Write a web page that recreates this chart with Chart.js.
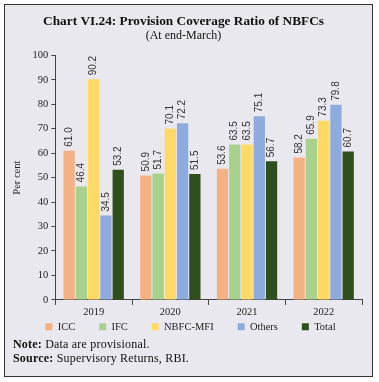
<!DOCTYPE html>
<html><head><meta charset="utf-8">
<script src="https://cdn.jsdelivr.net/npm/chart.js@4"></script>
<style>
html,body{margin:0;padding:0;background:#fff;}
#box{position:absolute;left:4px;top:4px;width:367px;height:371px;border:1.5px solid #333;background:#e9e8ee;overflow:hidden;}
#wrap{position:absolute;left:0;top:0;width:367px;height:359px;}
.note{position:absolute;left:8px;font-family:"Liberation Serif","DejaVu Serif",serif;font-size:12px;letter-spacing:0.2px;color:#111;}
</style></head>
<body>
<div id="box">
<div id="wrap"><canvas id="c"></canvas></div>
<div class="note" style="top:332px"><b>Note:</b> Data are provisional.</div>
<div class="note" style="top:346px"><b>Source:</b> Supervisory Returns, RBI.</div>
</div>
<script>
const categories = ["2019", "2020", "2021", "2022"];
const seriesNames = ["ICC", "IFC", "NBFC-MFI", "Others", "Total"];
const icc = [61.0, 50.9, 53.6, 58.2];
const ifc = [46.4, 51.7, 63.5, 65.9];
const nbfcMfi = [90.2, 70.1, 63.5, 73.3];
const others = [34.5, 72.2, 75.1, 79.8];
const total = [53.2, 51.5, 56.7, 60.7];
const yTicks = [0, 10, 20, 30, 40, 50, 60, 70, 80, 90, 100];
const colors = ["#f4b183", "#a9d18e", "#ffd966", "#8faadc", "#2f4f1f"];
const seriesValues = [icc, ifc, nbfcMfi, others, total];

const serif = '"Liberation Serif","DejaVu Serif",serif';

const labelPlugin = {
  id: 'barLabels',
  afterDatasetsDraw(chart) {
    const ctx = chart.ctx;
    ctx.save();
    ctx.font = '10px "Liberation Sans", Arial, sans-serif';
    ctx.fillStyle = '#333';
    ctx.textAlign = 'left';
    ctx.textBaseline = 'middle';
    chart.data.datasets.forEach((ds, i) => {
      const meta = chart.getDatasetMeta(i);
      meta.data.forEach((bar, j) => {
        ctx.save();
        ctx.translate(bar.x, bar.y - 4);
        ctx.rotate(-Math.PI / 2);
        ctx.fillText(ds.data[j].toFixed(1), 0, 0);
        ctx.restore();
      });
    });
    ctx.restore();
  }
};

const legendShift = {
  id: 'legendShift',
  afterLayout(chart) {
    const lg = chart.legend;
    if (!lg) return;
    lg.top -= 22; lg.bottom -= 22;
    lg.left += 7; lg.right += 7;
  }
};

new Chart(document.getElementById('c'), {
  type: 'bar',
  data: {
    labels: categories,
    datasets: seriesNames.map((n, i) => ({
      label: n,
      data: seriesValues[i],
      backgroundColor: colors[i],
      borderWidth: 0,
      categoryPercentage: 0.8,
      barPercentage: 0.92
    }))
  },
  options: {
    responsive: true,
    maintainAspectRatio: false,
    animation: false,
    layout: { padding: { left: 0, right: 10, top: 3, bottom: 0 } },
    plugins: {
      title: {
        display: true,
        text: 'Chart VI.24: Provision Coverage Ratio of NBFCs',
        font: { family: serif, size: 13.3, weight: 'bold', lineHeight: 1.05 },
        color: '#111',
        padding: { top: 7, bottom: 0 }
      },
      subtitle: {
        display: true,
        text: '(At end-March)',
        font: { family: serif, size: 12 },
        color: '#111',
        padding: { top: 0, bottom: 12 }
      },
      legend: {
        position: 'bottom',
        labels: {
          boxWidth: 7, boxHeight: 7, padding: 24,
          font: { family: serif, size: 10.5 },
          color: '#222'
        }
      },
      tooltip: { enabled: false }
    },
    scales: {
      x: {
        grid: { display: true, drawOnChartArea: false, offset: true, tickLength: 5, color: '#444' },
        border: { color: '#444' },
        ticks: { font: { family: serif, size: 10.5 }, color: '#222', padding: 1 }
      },
      y: {
        min: 0, max: 100,
        afterBuildTicks(axis) { axis.ticks = yTicks.map(v => ({ value: v })); },
        grid: { display: true, drawOnChartArea: false, tickLength: 4, color: '#444' },
        border: { color: '#444' },
        ticks: { font: { family: serif, size: 10.5 }, color: '#222', padding: 3 },
        title: { display: true, text: 'Per cent', font: { family: serif, size: 10.5 }, color: '#222', padding: 6 }
      }
    }
  },
  plugins: [labelPlugin, legendShift]
});
</script>
</body></html>
